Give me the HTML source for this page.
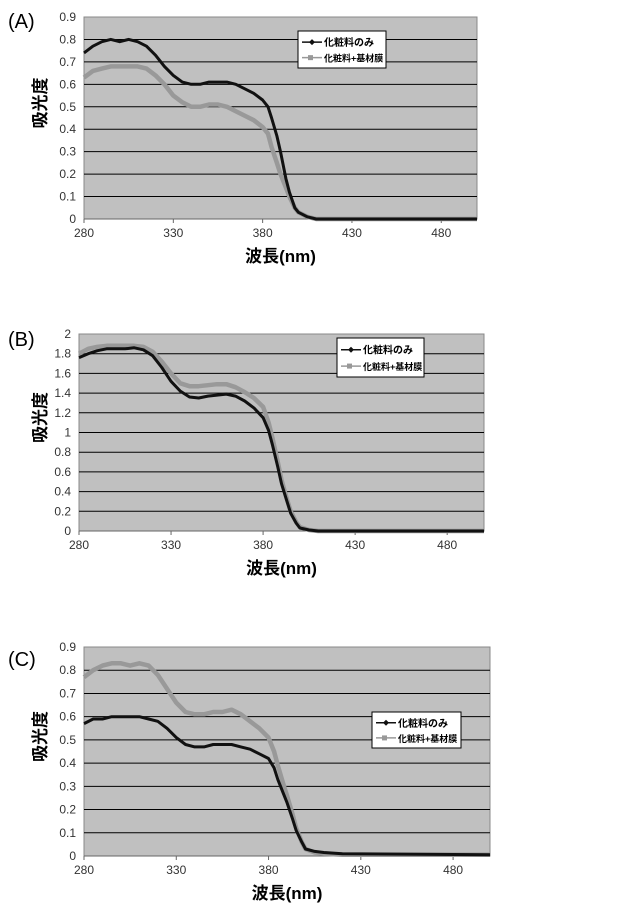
<!DOCTYPE html>
<html><head><meta charset="utf-8">
<style>
body{margin:0;background:#fff;width:640px;height:910px;overflow:hidden;font-family:"Liberation Sans","Noto Sans CJK JP",sans-serif;}
svg{position:absolute;left:0;top:0;}
</style></head>
<body>
<svg id="chart" width="640" height="910" xmlns="http://www.w3.org/2000/svg"></svg>
<script>
const wavelengths=[280,285,290,295,300,305,310,315,320,325,330,335,340,345,350,355,360,365,370,375,380,383,385,388,390,393,395,398,400,405,410,420,500];
const xTicks=[280,330,380,430,480];
const yTicksA=[0,0.1,0.2,0.3,0.4,0.5,0.6,0.7,0.8,0.9];
const yTicksB=[0,0.2,0.4,0.6,0.8,1,1.2,1.4,1.6,1.8,2];
const aBlack=[0.74,0.77,0.79,0.80,0.79,0.80,0.79,0.77,0.73,0.68,0.64,0.61,0.60,0.60,0.61,0.61,0.61,0.60,0.58,0.56,0.53,0.50,0.45,0.37,0.30,0.18,0.12,0.05,0.03,0.01,0,0,0];
const aGray=[0.63,0.66,0.67,0.68,0.68,0.68,0.68,0.67,0.64,0.60,0.55,0.52,0.50,0.50,0.51,0.51,0.50,0.48,0.46,0.44,0.41,0.38,0.32,0.25,0.20,0.14,0.10,0.05,0.03,0.01,0,0,0];
const bBlack=[1.76,1.80,1.83,1.85,1.85,1.85,1.86,1.84,1.78,1.66,1.52,1.42,1.36,1.35,1.37,1.38,1.39,1.37,1.32,1.25,1.15,1.02,0.88,0.65,0.48,0.30,0.18,0.08,0.03,0.01,0,0,0];
const bGray=[1.80,1.85,1.87,1.88,1.88,1.88,1.88,1.87,1.82,1.72,1.60,1.50,1.47,1.47,1.48,1.49,1.49,1.46,1.41,1.35,1.26,1.10,0.95,0.70,0.52,0.32,0.20,0.09,0.04,0.01,0,0,0];
const cBlack=[0.57,0.59,0.59,0.60,0.60,0.60,0.60,0.59,0.58,0.55,0.51,0.48,0.47,0.47,0.48,0.48,0.48,0.47,0.46,0.44,0.42,0.38,0.33,0.27,0.23,0.16,0.11,0.06,0.03,0.02,0.015,0.01,0.005];
const cGray=[0.77,0.80,0.82,0.83,0.83,0.82,0.83,0.82,0.78,0.72,0.66,0.62,0.61,0.61,0.62,0.62,0.63,0.61,0.58,0.55,0.51,0.45,0.39,0.31,0.26,0.18,0.12,0.06,0.03,0.015,0.01,0.005,0.005];
const seriesNames=["化粧料のみ","化粧料+基材膜"];

const NS="http://www.w3.org/2000/svg";
const svg=document.getElementById('chart');
function mk(tag,attrs,parent){const e=document.createElementNS(NS,tag);for(const k in attrs)e.setAttribute(k,attrs[k]);(parent||svg).appendChild(e);return e;}

const panels=[
 {id:'a',label:'(A)',L:84,R:477,T:17,B:219,ymax:0.9,ticks:yTicksA,black:aBlack,gray:aGray,leg:[298,31,88,37],lx:8,ly:28},
 {id:'b',label:'(B)',L:79,R:484,T:334,B:531,ymax:2,ticks:yTicksB,black:bBlack,gray:bGray,leg:[337,338,87,39],lx:8,ly:346},
 {id:'c',label:'(C)',L:84,R:490,T:647,B:856,ymax:0.9,ticks:yTicksA,black:cBlack,gray:cGray,leg:[372,712,89,36],lx:8,ly:666}
];
panels.forEach(p=>{
 const g=mk('g',{});
 
 
 const xs=v=>p.L+(v-280)/220*(p.R-p.L);
 const ys=v=>p.B-v/p.ymax*(p.B-p.T);
 const bg=mk('rect',{x:p.L,y:p.T,width:p.R-p.L,height:p.B-p.T,fill:'#c0c0c0',stroke:'#888','stroke-width':1},g);
 
 
 p.ticks.forEach(t=>{
  const y=ys(t);
  if(t>0&&t<p.ymax){const gl=mk('line',{x1:p.L,x2:p.R,y1:y,y2:y,stroke:'#000','stroke-width':1},g);
   
   }
  const tx=mk('text',{x:p.L-8,y:y+4,'text-anchor':'end','font-size':12,fill:'#333'},g);
  tx.textContent=String(t);
  
  
 });
 mk('line',{x1:p.L,x2:p.R,y1:p.B,y2:p.B,stroke:'#666','stroke-width':1},g);
 xTicks.forEach(t=>{
  const x=xs(t);
  mk('line',{x1:x,x2:x,y1:p.B,y2:p.B+4,stroke:'#666'},g);
  const tx=mk('text',{x:x,y:p.B+18,'text-anchor':'middle','font-size':12,fill:'#333'},g);
  tx.textContent=String(t);
  
  
 });
 [[p.gray,'#999',4.5,'series-cosmetic-plus-film'],[p.black,'#111',3,'series-cosmetic-only']].forEach(s=>{
  const d=wavelengths.map((w,i)=>(i?'L':'M')+xs(w).toFixed(1)+','+ys(s[0][i]).toFixed(1)).join(' ');
  const pl=mk('path',{d:d,fill:'none',stroke:s[1],'stroke-width':s[2],'stroke-linejoin':'round'},g);
  
  
 });
 const xt=mk('text',{x:(p.L+p.R)/2,y:p.B+43,'text-anchor':'middle','font-size':17,'font-weight':'bold',fill:'#000'},g);
 xt.textContent='波長(nm)';
 
 
 const cy=(p.T+p.B)/2-15, cx=46;
 const yt=mk('text',{x:cx,y:cy,'text-anchor':'middle','font-size':17,'font-weight':'bold',fill:'#000',transform:`rotate(-90 ${cx} ${cy})`},g);
 yt.textContent='吸光度';
 
 
 const lb=mk('text',{x:p.lx,y:p.ly,'font-size':20,fill:'#000'},g);
 lb.textContent=p.label;
 
 
 const [lx,ly,lw,lh]=p.leg;
 const lg=mk('g',{},g);
 
 
 mk('rect',{x:lx,y:ly,width:lw,height:lh,fill:'#fff',stroke:'#000','stroke-width':1},lg);
 [['#111',seriesNames[0],10],['#999',seriesNames[1],9]].forEach((e,i)=>{
  const yy=ly+lh*(i?0.72:0.3);
  const en=mk('g',{},lg);
  
  
  mk('line',{x1:lx+4,x2:lx+24,y1:yy,y2:yy,stroke:e[0],'stroke-width':1.5},en);
  if(i===0)mk('path',{d:`M${lx+11},${yy} l3,-3 l3,3 l-3,3z`,fill:e[0]},en);
  else mk('rect',{x:lx+10,y:yy-2.5,width:5,height:5,fill:e[0]},en);
  const t=mk('text',{x:lx+26,y:yy+4,'font-size':e[2],'font-weight':'bold',fill:'#000'},en);
  t.textContent=e[1];
 });
});
</script>
</body></html>
